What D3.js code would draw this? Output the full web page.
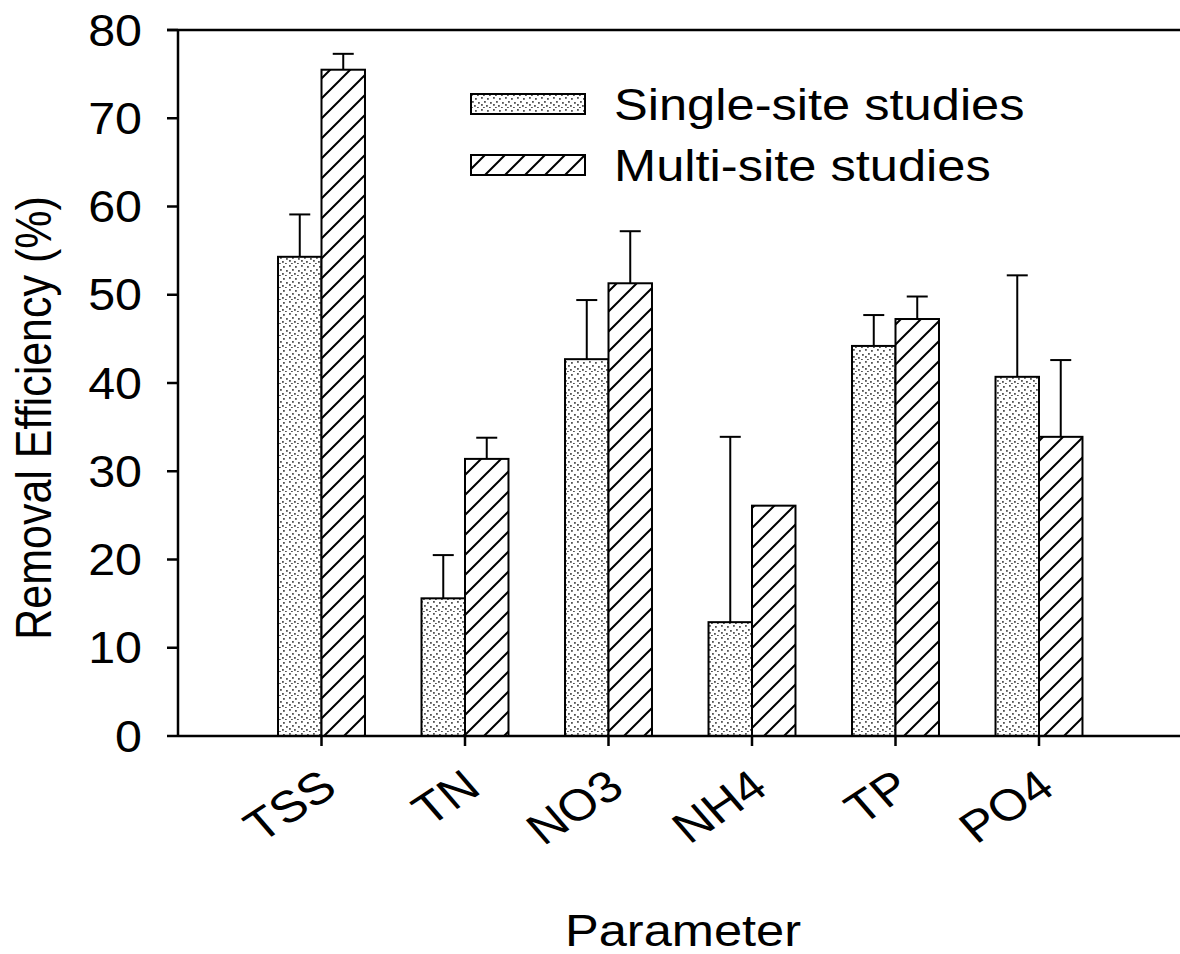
<!DOCTYPE html>
<html>
<head>
<meta charset="utf-8">
<script src="https://cdn.jsdelivr.net/npm/d3@7"></script>
<style>
html,body{margin:0;padding:0;background:#fff;}
svg{display:block;}
text{font-family:Arial,"Liberation Sans",sans-serif;fill:#000;}
</style>
</head>
<body>
<script>
const categories = ["TSS","TN","NO3","NH4","TP","PO4"];
const singleValues = [54.3, 15.6, 42.7, 12.9, 44.2, 40.7];
const singleErrors = [4.8, 4.9, 6.7, 21.0, 3.5, 11.5];
const multiValues = [75.5, 31.4, 51.3, 26.1, 47.25, 33.9];
const multiErrors = [1.8, 2.4, 5.9, 0, 2.55, 8.7];
const yTicks = [0,10,20,30,40,50,60,70,80];
const seriesNames = ["Single-site studies","Multi-site studies"];

const W = 1180, H = 954;
const svg = d3.select("body").append("svg").attr("width", W).attr("height", H);
const defs = svg.append("defs");

// stipple pattern
const dots = defs.append("pattern").attr("id","dots").attr("patternUnits","userSpaceOnUse")
  .attr("width",12).attr("height",12);
dots.append("rect").attr("width",12).attr("height",12).attr("fill","#fff");
[[1,1],[7,2],[4,5],[10,6],[1,8],[6,9],[9,11],[3,11]].forEach(([px,py])=>{
  dots.append("rect").attr("x",px).attr("y",py).attr("width",1.8).attr("height",1.8).attr("fill","#555");
});
// hatch pattern
const hatch = defs.append("pattern").attr("id","hatch").attr("patternUnits","userSpaceOnUse")
  .attr("width",20).attr("height",20);
hatch.append("rect").attr("width",20).attr("height",20).attr("fill","#fff");
hatch.append("path").attr("d","M-5,5 L5,-5 M0,20 L20,0 M15,25 L25,15")
  .attr("stroke","#000").attr("stroke-width",2);

const pLeft = 178, pRight = 1182.5, pTop = 30, pBottom = 736;
const x = d3.scaleLinear().domain([0, categories.length + 1]).range([pLeft, pRight]);
const y = d3.scaleLinear().domain([0, 80]).range([pBottom, pTop]);
const barW = (x(1) - x(0)) * 0.303;
const SX = 1.15, FS = 44;

// bars
const g = svg.append("g");
function drawSeries(vals, errs, fill, offset) {
  vals.forEach((v, i) => {
    const cx = x(i + 1);
    const bx = offset < 0 ? cx - barW : cx;
    g.append("rect").attr("x", bx).attr("y", y(v)).attr("width", barW).attr("height", y(0) - y(v))
      .attr("fill", `url(#${fill})`).attr("stroke", "#000").attr("stroke-width", 2);
    if (errs[i] > 0) {
      const mx = bx + barW / 2;
      g.append("line").attr("x1", mx).attr("x2", mx).attr("y1", y(v)).attr("y2", y(v + errs[i]))
        .attr("stroke", "#000").attr("stroke-width", 2);
      g.append("line").attr("x1", mx - 10.5).attr("x2", mx + 10.5).attr("y1", y(v + errs[i])).attr("y2", y(v + errs[i]))
        .attr("stroke", "#000").attr("stroke-width", 2);
    }
  });
}
drawSeries(singleValues, singleErrors, "dots", -1);
drawSeries(multiValues, multiErrors, "hatch", 1);

// frame
svg.append("line").attr("x1", pLeft - 11).attr("x2", pRight).attr("y1", pTop).attr("y2", pTop)
  .attr("stroke", "#000").attr("stroke-width", 2.5);
svg.append("line").attr("x1", pLeft).attr("x2", pRight).attr("y1", pBottom).attr("y2", pBottom)
  .attr("stroke", "#000").attr("stroke-width", 2.5);
svg.append("line").attr("x1", pLeft).attr("x2", pLeft).attr("y1", pTop).attr("y2", pBottom)
  .attr("stroke", "#000").attr("stroke-width", 2.5);
svg.append("line").attr("x1", pRight).attr("x2", pRight).attr("y1", pTop).attr("y2", pBottom)
  .attr("stroke", "#000").attr("stroke-width", 2.5);

// y axis ticks
yTicks.forEach(t => {
  svg.append("line").attr("x1", pLeft - 11).attr("x2", pLeft).attr("y1", y(t)).attr("y2", y(t))
    .attr("stroke", "#000").attr("stroke-width", 2.5);
  svg.append("text").attr("transform", `translate(142,${y(t)}) scale(1.1,1)`)
    .attr("text-anchor", "end").attr("dy", "0.355em").attr("font-size", FS).text(t);
});

// x axis ticks and labels
categories.forEach((c, i) => {
  const cx = x(i + 1);
  svg.append("line").attr("x1", cx).attr("x2", cx).attr("y1", pBottom).attr("y2", pBottom + 10)
    .attr("stroke", "#000").attr("stroke-width", 2.5);
  svg.append("text").attr("transform", `translate(${cx + 18},${pBottom + 56}) scale(${SX},1) rotate(-37)`)
    .attr("text-anchor", "end").attr("font-size", FS).text(c);
});

// axis titles
svg.append("text").attr("transform", `translate(683,946) scale(${SX},1)`)
  .attr("text-anchor", "middle").attr("font-size", FS).text("Parameter");
svg.append("text").attr("transform", `translate(51,418) scale(${SX},1) rotate(-90)`)
  .attr("text-anchor", "middle").attr("font-size", 43).text("Removal Efficiency (%)");

// legend
const legY = [104, 165];
["dots","hatch"].forEach((f, i) => {
  svg.append("rect").attr("x", 471).attr("y", legY[i] - 10).attr("width", 114).attr("height", 20)
    .attr("fill", `url(#${f})`).attr("stroke", "#000").attr("stroke-width", 2);
  svg.append("text").attr("transform", `translate(614,${legY[i]}) scale(${SX},1)`)
    .attr("dy", "0.355em").attr("font-size", FS).text(seriesNames[i]);
});
</script>
</body>
</html>
